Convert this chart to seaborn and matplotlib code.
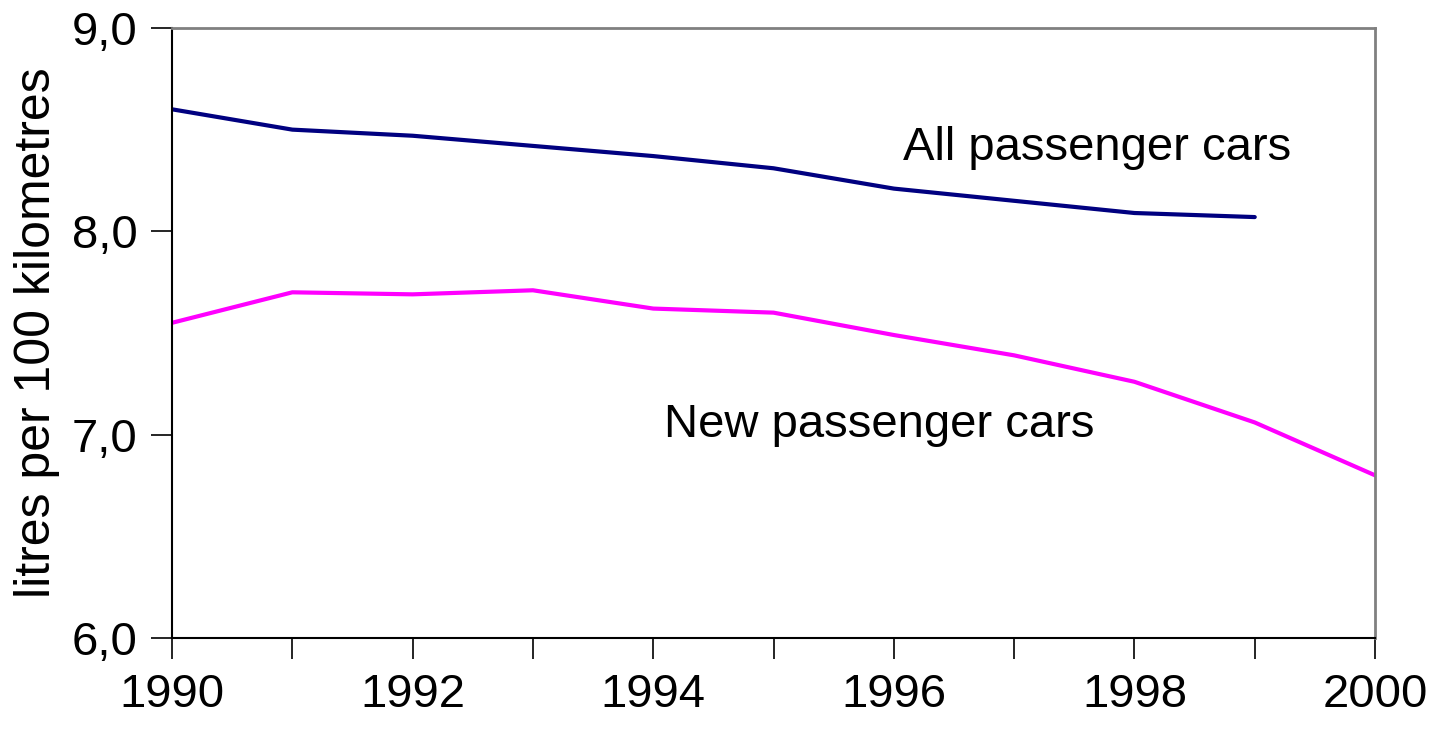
import numpy as np
import pandas as pd
import matplotlib
matplotlib.use("Agg")
import matplotlib.pyplot as plt
import seaborn as sns

# fuel consumption, litres per 100 km
years_all = [1990, 1991, 1992, 1993, 1994, 1995, 1996, 1997, 1998, 1999]
all_cars = [8.60, 8.50, 8.47, 8.42, 8.37, 8.31, 8.21, 8.15, 8.09, 8.07]

years_new = [1990, 1991, 1992, 1993, 1994, 1995, 1996, 1997, 1998, 1999, 2000]
new_cars = [7.55, 7.70, 7.69, 7.71, 7.62, 7.60, 7.49, 7.39, 7.26, 7.06, 6.80]

y_ticks = [6.0, 7.0, 8.0, 9.0]
y_tick_labels = ["6,0", "7,0", "8,0", "9,0"]
x_label_years = [1990, 1992, 1994, 1996, 1998, 2000]

df_all = pd.DataFrame({"year": years_all, "value": all_cars})
df_new = pd.DataFrame({"year": years_new, "value": new_cars})

sns.set_style("white")
plt.rcParams["font.family"] = ["Liberation Sans", "DejaVu Sans"]
plt.rcParams["text.color"] = "black"
plt.rcParams["axes.labelcolor"] = "black"
plt.rcParams["xtick.color"] = "black"
plt.rcParams["ytick.color"] = "black"

fig = plt.figure(figsize=(14.31, 7.34), dpi=100)
ax = fig.add_axes([0.1202, 0.1308, 0.8407, 0.8311])

sns.lineplot(data=df_all, x="year", y="value", color="#000080", linewidth=3, ax=ax)
sns.lineplot(data=df_new, x="year", y="value", color="#FF00FF", linewidth=3, ax=ax)

ax.set_xlim(1990, 2000)
ax.set_ylim(6.0, 9.0)

ax.set_yticks(y_ticks)
ax.set_yticklabels(y_tick_labels, fontsize=34)
ax.set_xticks(range(1990, 2001))
ax.set_xticklabels([str(y) if y in x_label_years else "" for y in range(1990, 2001)], fontsize=34)
ax.tick_params(axis="both", direction="out", length=15, width=1.2, color="black",
               bottom=True, left=True, pad=10)

ax.set_xlabel("")
ax.set_ylabel("litres per 100 kilometres", fontsize=36, labelpad=8)

for side in ["left", "bottom"]:
    ax.spines[side].set_color("black")
    ax.spines[side].set_linewidth(1.5)
for side in ["top", "right"]:
    ax.spines[side].set_color("#808080")
    ax.spines[side].set_linewidth(2)

ax.text(1996.08, 8.35, "All passenger cars", fontsize=34, va="baseline", ha="left")
ax.text(1994.09, 6.99, "New passenger cars", fontsize=34, va="baseline", ha="left")

fig.savefig("out.png", dpi=100)
